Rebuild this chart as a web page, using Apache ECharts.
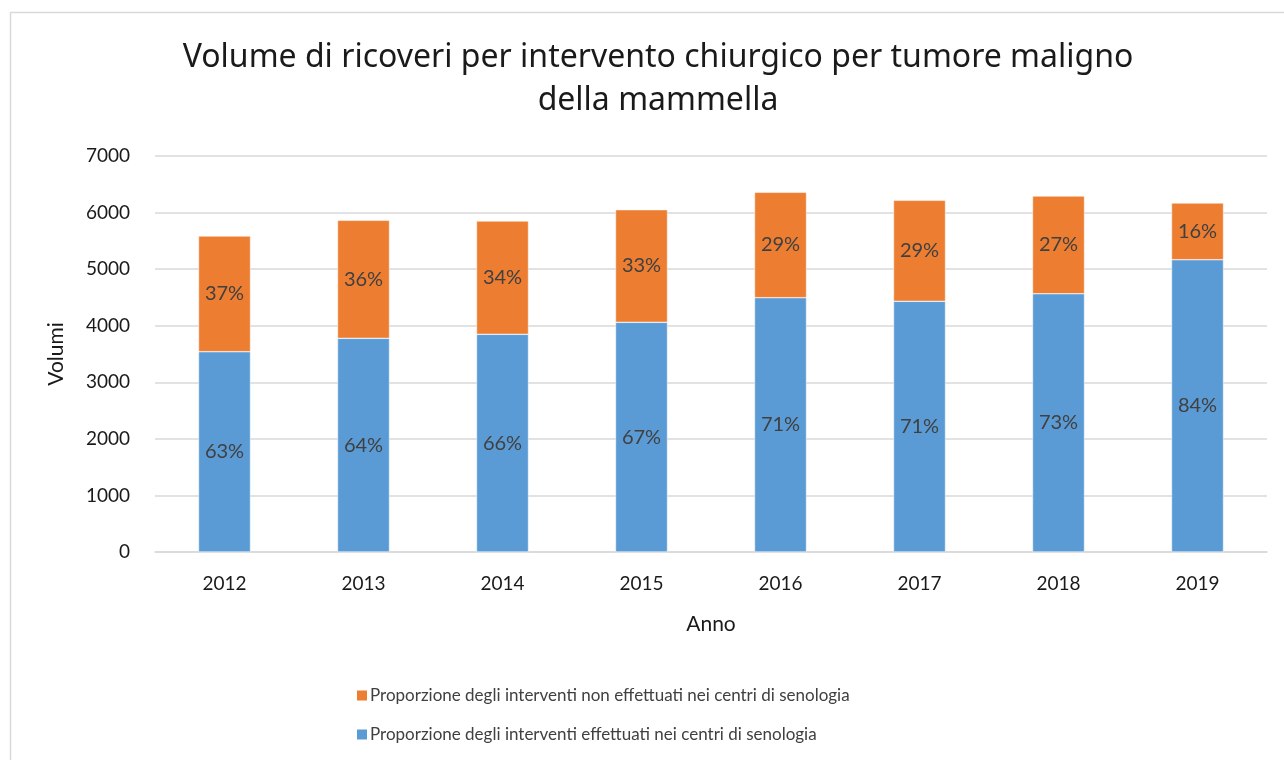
<!DOCTYPE html>
<html>
<head>
<meta charset="utf-8">
<script src="https://cdn.jsdelivr.net/npm/echarts@6/dist/echarts.min.js"></script>
<style>
  html, body { margin: 0; padding: 0; background: #fff; }
  #chart { width: 1284px; height: 760px; }
</style>
</head>
<body>
<div id="chart"></div>
<script>
// Data
var years = ["2012", "2013", "2014", "2015", "2016", "2017", "2018", "2019"];
var inCentri = [3541, 3777, 3848, 4060, 4496, 4431, 4566, 5167];
var nonInCentri = [2045, 2086, 2003, 1991, 1862, 1785, 1727, 1002];
var pctInCentri = ["63%", "64%", "66%", "67%", "71%", "71%", "73%", "84%"];
var pctNonInCentri = ["37%", "36%", "34%", "33%", "29%", "29%", "27%", "16%"];
var yTicks = [0, 1000, 2000, 3000, 4000, 5000, 6000, 7000];

var nameIn = "Proporzione degli interventi effettuati nei centri di senologia";
var nameNon = "Proporzione degli interventi non effettuati nei centri di senologia";

var font = "Lato, 'Noto Sans', sans-serif";
var titleFont = "'Noto Sans', 'Open Sans', sans-serif";

var chart = echarts.init(document.getElementById("chart"));

var option = {
  animation: false,
  textStyle: { fontFamily: font },
  graphic: [
    {
      type: "rect",
      shape: { x: 10.5, y: 12.5, width: 1300, height: 800 },
      style: { fill: "none", stroke: "#d9d9d9", lineWidth: 1.5 },
      silent: true
    }
  ],
  title: {
    text: "Volume di ricoveri per intervento chiurgico per tumore maligno\ndella mammella",
    left: 653,
    textAlign: "center",
    top: 31,
    textStyle: {
      fontFamily: titleFont,
      fontSize: 32,
      fontWeight: "normal",
      color: "#1a1a1a",
      lineHeight: 43
    }
  },
  legend: {
    data: [nameNon, nameIn],
    orient: "vertical",
    left: 350,
    top: 682,
    itemWidth: 12,
    itemHeight: 12,
    itemGap: 22,
    icon: "rect",
    textStyle: { fontFamily: font, fontSize: 17, color: "#404040", padding: [0, 0, 0, -3] }
  },
  grid: {
    left: 155,
    right: 17,
    top: 156,
    bottom: 208
  },
  xAxis: {
    type: "category",
    data: years,
    name: "Anno",
    nameLocation: "middle",
    nameGap: 62,
    nameTextStyle: { fontFamily: font, fontSize: 21, color: "#1a1a1a" },
    axisLine: { lineStyle: { color: "#d9d9d9", width: 1.5 } },
    axisTick: { show: false },
    axisLabel: { fontSize: 19, color: "#1a1a1a", margin: 22, fontFamily: font }
  },
  yAxis: {
    type: "value",
    min: yTicks[0],
    max: yTicks[yTicks.length - 1],
    interval: 1000,
    name: "Volumi",
    nameLocation: "middle",
    nameGap: 88,
    nameRotate: 90,
    nameTextStyle: { fontFamily: font, fontSize: 21, color: "#1a1a1a" },
    axisLine: { show: false },
    axisTick: { show: false },
    axisLabel: {
      fontSize: 19,
      color: "#1a1a1a",
      margin: 25,
      fontFamily: font,
      formatter: function (v) { return String(v); }
    },
    splitLine: { lineStyle: { color: "#d9d9d9", width: 1.5 } }
  },
  series: [
    {
      name: nameIn,
      type: "bar",
      stack: "tot",
      data: inCentri,
      barWidth: 52,
      itemStyle: { color: "#5b9bd5", borderColor: "#ffffff", borderWidth: 0.5 },
      label: {
        show: true,
        position: "inside",
        fontSize: 20,
        color: "#404040",
        fontFamily: font,
        formatter: function (p) { return pctInCentri[p.dataIndex]; }
      }
    },
    {
      name: nameNon,
      type: "bar",
      stack: "tot",
      data: nonInCentri,
      barWidth: 52,
      itemStyle: { color: "#ed7d31", borderColor: "#ffffff", borderWidth: 0.5 },
      label: {
        show: true,
        position: "inside",
        fontSize: 20,
        color: "#404040",
        fontFamily: font,
        formatter: function (p) { return pctNonInCentri[p.dataIndex]; }
      }
    }
  ]
};

chart.setOption(option);
</script>
</body>
</html>
